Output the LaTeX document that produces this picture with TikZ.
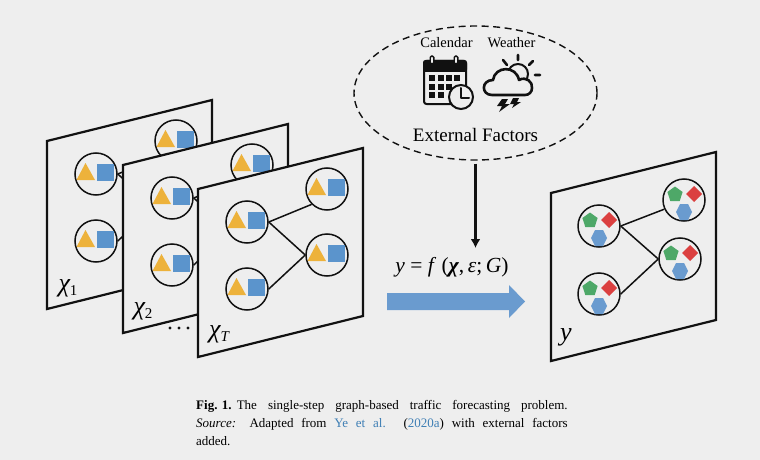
\documentclass[tikz,border=0pt]{standalone}
\usepackage{fontspec}
\setmainfont{Liberation Serif}
\usetikzlibrary{arrows.meta,calc,shapes.geometric}
\definecolor{bgc}{HTML}{EEEEEE}
\definecolor{goldc}{HTML}{EDB23B}
\definecolor{bluec}{HTML}{5B94CC}
\definecolor{blued}{HTML}{6A9BCF}
\definecolor{greenc}{HTML}{4EA868}
\definecolor{redc}{HTML}{DB4040}
\definecolor{linkc}{HTML}{3F7FB5}
\definecolor{inkc}{HTML}{111111}
\newcommand{\subsc}[1]{\raisebox{-4pt}{\fontsize{15}{15}\selectfont #1}}
\tikzset{
  x=1pt,y=-1pt,
  planebox/.style={draw=inkc,fill=bgc,line width=2.2pt,line join=miter},
  gnode/.style={circle,draw=inkc,line width=1.5pt,minimum size=42pt,inner sep=0pt},
  edge/.style={draw=inkc,line width=1.5pt},
  lab/.style={inner sep=0pt,font=\fontsize{26}{26}\selectfont\itshape},
  iconline/.style={draw=inkc,line width=2pt,line cap=round,line join=round},
}
\newcommand{\plane}[2]{\path[planebox] (#1,#2) -- ++(165,-41) -- ++(0,168) -- ++(-165,41) -- cycle;}
\newcommand{\xnode}[3]{%
  \node[gnode] (#1) at (#2,#3) {};
  \begin{scope}[shift={(#2,#3)}]
    \fill[goldc] (-19.5,6) -- (-10.5,-11) -- (-1,6) -- cycle;
    \fill[bluec] (1,-10) rectangle (18,7);
  \end{scope}}
\newcommand{\ynode}[3]{%
  \node[gnode] (#1) at (#2,#3) {};
  \begin{scope}[shift={(#2,#3)}]
    \fill[greenc] (-9,-13.5) -- (-1.4,-8) -- (-4.3,1) -- (-13.7,1) -- (-16.6,-8) -- cycle;
    \fill[redc] (10,-14) -- (18,-6) -- (10,2) -- (2,-6) -- cycle;
    \fill[blued] (-4,4) -- (4,4) -- (8,12) -- (4,20) -- (-4,20) -- (-8,12) -- cycle;
  \end{scope}}
\newcommand{\xgraph}[3]{% prefix, x, y of plane corner
  \xnode{#1a}{#2+49}{#3+33}
  \xnode{#1b}{#2+129}{#3+0}
  \xnode{#1c}{#2+129}{#3+66}
  \xnode{#1d}{#2+49}{#3+100}
  \draw[edge] (#1a.east) -- (#1b.225);
  \draw[edge] (#1a.east) -- (#1c.west);
  \draw[edge] (#1d.east) -- (#1c.west);}
\begin{document}
\begin{tikzpicture}
\useasboundingbox (0,0) rectangle (760,460);
\fill[bgc] (0,0) rectangle (760,460);

% stacked planes
\plane{47}{141}
\xgraph{p}{47}{141}
\node[lab] (l1) at (68,288) {χ\subsc{\upshape 1}};
\plane{123}{165}
\xgraph{q}{123}{165}
\node[lab] (l2) at (143,311) {χ\subsc{\upshape 2}};
\fill[inkc] (170,328) circle (1.7) (179,328) circle (1.7) (188,328) circle (1.7);
\plane{198}{189}
\xgraph{r}{198}{189}
\node[lab] (l3) at (219,334) {χ\subsc{T}};

% output plane
\plane{551}{193}
\ynode{ya}{599}{226}
\ynode{yb}{684}{200}
\ynode{yc}{680}{259}
\ynode{yd}{599}{294}
\draw[edge] (ya.east) -- (yb.205);
\draw[edge] (ya.east) -- (yc.west);
\draw[edge] (yd.east) -- (yc.west);
\node[lab] (l4) at (566,337) {y};

% external factors
\node[draw=inkc,dash pattern=on 7pt off 4.5pt,line width=1.4pt,ellipse,minimum width=243pt,minimum height=134pt,inner sep=0pt] (ext) at (475.5,93) {};
\node[inner sep=0pt,font=\fontsize{14.5}{14.5}\selectfont] (cal) at (446.5,42.5) {Calendar};
\node[inner sep=0pt,font=\fontsize{14.5}{14.5}\selectfont] (wea) at (511.5,42.5) {Weather};
\node[inner sep=0pt,font=\fontsize{19}{19}\selectfont] (extl) at (475.5,135) {External Factors};

% calendar icon
\draw[iconline,rounded corners=2.5pt] (455,104) -- (424,104) -- (424,61) -- (466,61) -- (466,86);
\fill[inkc,rounded corners=2.5pt] (423,60) rectangle (467,72);
\foreach \cx in {432,456}{
  \draw[draw=inkc,fill=bgc,line width=1.4pt,rounded corners=1.5pt] (\cx-1.8,56) rectangle (\cx+1.8,64);
}
\foreach \gx/\gy in {429/75,437.5/75,446/75,453.5/75,429/83.5,437.5/83.5,446/83.5,429/92,437.5/92}{
  \fill[inkc] (\gx,\gy) rectangle ++(6,6);
}
\draw[draw=inkc,fill=bgc,line width=2pt] (461,97) circle (12);
\draw[iconline] (461,88) -- (461,97.5) -- (469,97.5);

% weather icon
\draw[iconline] (518,74) circle (10);
\draw[iconline,line width=2.6pt] (518,55) -- (518,60) (503,60) -- (507,65) (533,61) -- (529,65) (535,75) -- (540,75);
\draw[iconline,fill=bgc,line width=2.6pt] (492,95)
  .. controls (481,95) and (481,80) .. (493,80)
  .. controls (495,66) and (516,65) .. (519,80)
  .. controls (526,76) and (533,82) .. (532,88)
  .. controls (532,92) and (529,95) .. (525,95) -- cycle;
\fill[inkc] (502,99) -- (508,99) -- (505,104) -- (510,104) -- (499,112) -- (502,106) -- (497,106) -- cycle;
\fill[inkc] (513,98) -- (519,98) -- (517,102) -- (521,102) -- (512,108) -- (514,104) -- (510,104) -- cycle;

% arrows
\coordinate (fin) at (475.5,248);
\draw[draw=inkc,line width=2.2pt,-{Latex[length=9pt,width=10pt]}] ($(ext.south)+(0,3)$) -- (fin);
\node[inner sep=0pt,font=\fontsize{21.5}{21.5}\selectfont] (fn) at (452,267.5) {\textit{y} = \textit{f} (\textbf{\itshape χ},\,\textit{ε};\,\textit{G})};
\fill[blued] (387,293) -- (509,293) -- (509,285) -- (525,301.5) -- (509,318) -- (509,310) -- (387,310) -- cycle;

% caption
\node[anchor=north west,inner sep=0pt,text width=371.5pt,align=justify,font=\fontsize{13}{18}\selectfont] (cap) at (196,400)
{\mbox{\textbf{Fig. 1.}}\hspace{0.4em}The single-step graph-based traffic forecasting problem.\linebreak
\textit{Source:} Adapted from \textcolor{linkc}{Ye\ et\ al.} (\textcolor{linkc}{2020a}) with external factors\linebreak
added.};
\end{tikzpicture}
\end{document}
